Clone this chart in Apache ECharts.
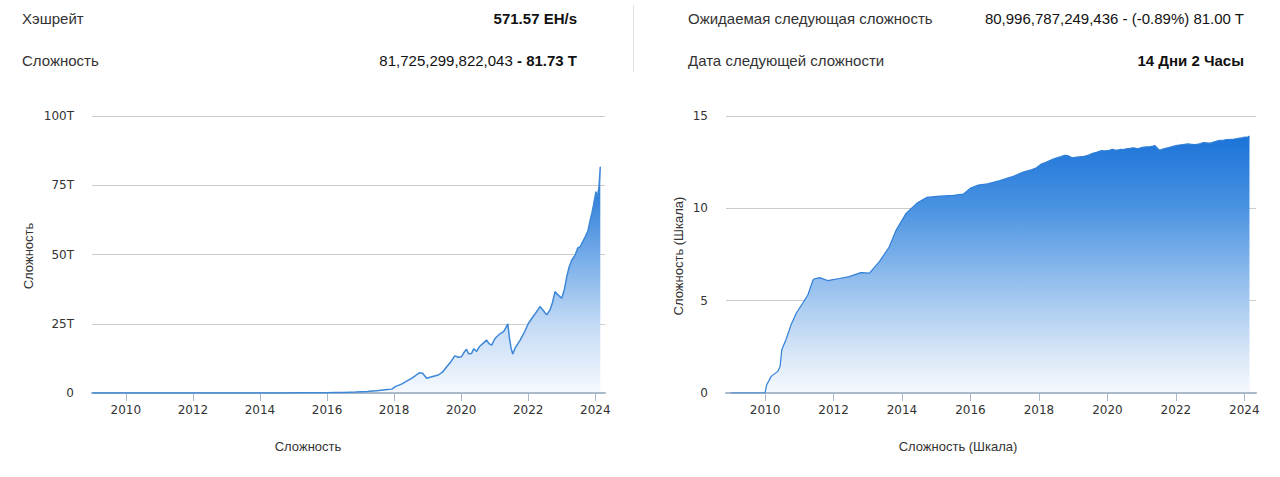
<!DOCTYPE html>
<html>
<head>
<meta charset="utf-8">
<script src="https://cdn.jsdelivr.net/npm/echarts@6/dist/echarts.min.js"></script>
<style>
html,body{margin:0;padding:0;background:#fff;}
#c{width:1280px;height:477px;}
</style>
</head>
<body>
<div id="c"></div>
<script>
// Shared dates (fractional years)
const years = [2009.00,2009.50,2010.00,2010.05,2010.18,2010.37,2010.44,2010.49,2010.61,2010.76,2010.91,2011.10,2011.25,2011.41,2011.59,2011.83,2012.17,2012.46,2012.80,2013.05,2013.34,2013.63,2013.83,2014.12,2014.43,2014.72,2015.11,2015.50,2015.79,2015.99,2016.23,2016.50,2016.86,2017.20,2017.54,2017.80,2017.93,2018.05,2018.22,2018.40,2018.52,2018.65,2018.75,2018.85,2018.97,2019.10,2019.32,2019.45,2019.57,2019.70,2019.81,2019.92,2020.01,2020.10,2020.16,2020.22,2020.31,2020.38,2020.46,2020.55,2020.66,2020.76,2020.83,2020.91,2021.00,2021.06,2021.16,2021.26,2021.33,2021.39,2021.44,2021.49,2021.54,2021.62,2021.76,2021.90,2022.00,2022.10,2022.20,2022.35,2022.45,2022.55,2022.65,2022.72,2022.80,2022.88,2023.00,2023.08,2023.15,2023.22,2023.30,2023.40,2023.48,2023.55,2023.62,2023.70,2023.78,2023.85,2023.90,2023.95,2024.02,2024.07,2024.11,2024.15];
// Difficulty, trillions (left chart)
const diffT = [0,0,0,0,0,0,0,0,0,0,0,0,0,0,0,0,0,0,0,0,0,0,0.001,0.003,0.019,0.039,0.046,0.05,0.06,0.12,0.18,0.21,0.32,0.5,0.9,1.25,1.4,2.4,3.2,4.5,5.3,6.4,7.3,7.1,5.3,5.8,6.5,7.6,9.5,11.4,13.4,12.9,13.1,14.9,15.8,14.2,14.3,16.0,15.0,16.8,18.0,19.1,17.8,17.3,19.5,20.3,21.4,22.1,23.5,25.0,19.9,16.1,14.1,16.5,19.1,22.3,25.0,26.8,28.5,31.2,29.8,28.2,30.0,32.5,36.6,35.5,34.2,37.5,42.0,45.5,48.0,49.8,52.4,52.8,54.5,56.4,58.5,62.5,64.9,68.0,72.7,70.9,74.5,81.7];
// Difficulty, log scale (right chart)
const diffLog = [0,0,0,0.45,0.9,1.17,1.44,2.34,2.88,3.69,4.32,4.86,5.31,6.16,6.25,6.09,6.2,6.3,6.52,6.49,7.11,7.92,8.83,9.73,10.27,10.59,10.66,10.7,10.77,11.08,11.26,11.33,11.5,11.7,11.96,12.1,12.2,12.38,12.5,12.65,12.73,12.8,12.87,12.85,12.74,12.77,12.81,12.88,12.98,13.05,13.12,13.11,13.12,13.17,13.2,13.15,13.16,13.2,13.18,13.22,13.25,13.28,13.25,13.24,13.29,13.31,13.33,13.34,13.37,13.4,13.3,13.2,13.15,13.21,13.28,13.35,13.4,13.43,13.45,13.49,13.47,13.45,13.48,13.51,13.56,13.55,13.53,13.57,13.62,13.66,13.68,13.7,13.72,13.72,13.74,13.75,13.77,13.8,13.81,13.83,13.86,13.85,13.87,13.91];
const yearTicks = [2010,2012,2014,2016,2018,2020,2022,2024];
const leftYTicks = [0,25,50,75,100];
const rightYTicks = [0,5,10,15];

const chart = echarts.init(document.getElementById('c'), null, {renderer:'svg', width:1280, height:477});

const axisLineColor = '#a9b9c9';
const labelFont = {fontFamily:'DejaVu Sans', fontSize:12, color:'#333'};
function xAxisCfg(gi, min, max){
  return {
    type:'value', gridIndex:gi, min:min, max:max, z:3,
    axisLine:{show:true, lineStyle:{color:axisLineColor, width:2}},
    axisTick:{show:true, customValues:yearTicks, length:8, lineStyle:{color:axisLineColor, width:1}},
    axisLabel:Object.assign({customValues:yearTicks, margin:11, formatter:v=>String(v)}, labelFont),
    splitLine:{show:false}
  };
}
function yAxisCfg(gi, max, interval, fmt){
  return {
    type:'value', gridIndex:gi, min:0, max:max, interval:interval, z:3,
    axisLine:{show:false}, axisTick:{show:false},
    axisLabel:Object.assign({margin:18, formatter:fmt}, labelFont),
    splitLine:{show:true, lineStyle:{color:'rgba(0,0,0,0.2)', width:1}}
  };
}
function txt(x,y,text,opt){
  opt = opt || {};
  return {type:'text', x:x, y:y, rotation:opt.rot||0, silent:true,
    style:{text:text, font:(opt.bold?'bold ':'')+(opt.size||15)+'px "Liberation Sans", Arial, sans-serif',
      fill:opt.color||'#333', align:opt.align||'left', textAlign:opt.align||'left',
      verticalAlign:'middle', textVerticalAlign:'middle', rich:opt.rich}};
}

const option = {
  animation:false,
  grid:[
    {left:92, top:116, width:513, height:277},
    {left:726, top:116, width:530, height:277}
  ],
  xAxis:[xAxisCfg(0, 2008.99, 2024.29), xAxisCfg(1, 2008.86, 2024.34)],
  yAxis:[
    yAxisCfg(0, 100, 25, v => v===0 ? '0' : v+'T'),
    yAxisCfg(1, 15, 5, v => String(v))
  ],
  series:[
    {type:'line', xAxisIndex:0, yAxisIndex:0, showSymbol:false, silent:true,
     data: years.map((y,i)=>[y, diffT[i]]),
     lineStyle:{color:'#3d87d8', width:1.5},
     areaStyle:{opacity:1, color:new echarts.graphic.LinearGradient(0,0,0,1,[
       {offset:0, color:'#2a7ad7'},{offset:0.15, color:'#3885da'},{offset:0.4, color:'#76ace9'},
       {offset:0.7, color:'#c4dbf5'},{offset:1, color:'#f6f9fe'}])}},
    {type:'line', xAxisIndex:1, yAxisIndex:1, showSymbol:false, silent:true,
     data: years.map((y,i)=>[y, diffLog[i]]),
     lineStyle:{color:'#2f7fd8', width:1.2},
     areaStyle:{opacity:1, color:new echarts.graphic.LinearGradient(0,0,0,1,[
       {offset:0, color:'#1b73d8'},{offset:0.28, color:'#4a93e2'},{offset:0.64, color:'#a6c9f0'},
       {offset:0.87, color:'#dde9f8'},{offset:1, color:'#f6f9fe'}])}}
  ],
  graphic:[
    txt(22, 18, 'Хэшрейт'),
    txt(577, 18, '571.57 EH/s', {bold:true, align:'right', color:'#111'}),
    txt(22, 60, 'Сложность'),
    txt(577, 60, '{a|81,725,299,822,043} {b|- 81.73 T}', {align:'right', color:'#111',
      rich:{a:{font:'15px "Liberation Sans", Arial, sans-serif', fill:'#111'},
            b:{font:'bold 15px "Liberation Sans", Arial, sans-serif', fill:'#111'}}}),
    {type:'line', silent:true, shape:{x1:633.5, y1:5, x2:633.5, y2:72}, style:{stroke:'#e4e4e4', lineWidth:1}},
    txt(688, 18, 'Ожидаемая следующая сложность'),
    txt(1244, 18, '80,996,787,249,436 - (-0.89%) 81.00 T', {align:'right', color:'#111'}),
    txt(688, 60, 'Дата следующей сложности'),
    txt(1244, 60, '14 Дни 2 Часы', {bold:true, align:'right', color:'#111'}),
    txt(308, 446, 'Сложность', {size:13, align:'center'}),
    txt(958, 446, 'Сложность (Шкала)', {size:13, align:'center'}),
    txt(28, 256, 'Сложность', {size:13, align:'center', rot:Math.PI/2}),
    txt(678, 256, 'Сложность (Шкала)', {size:13, align:'center', rot:Math.PI/2})
  ]
};
chart.setOption(option);
</script>
</body>
</html>
